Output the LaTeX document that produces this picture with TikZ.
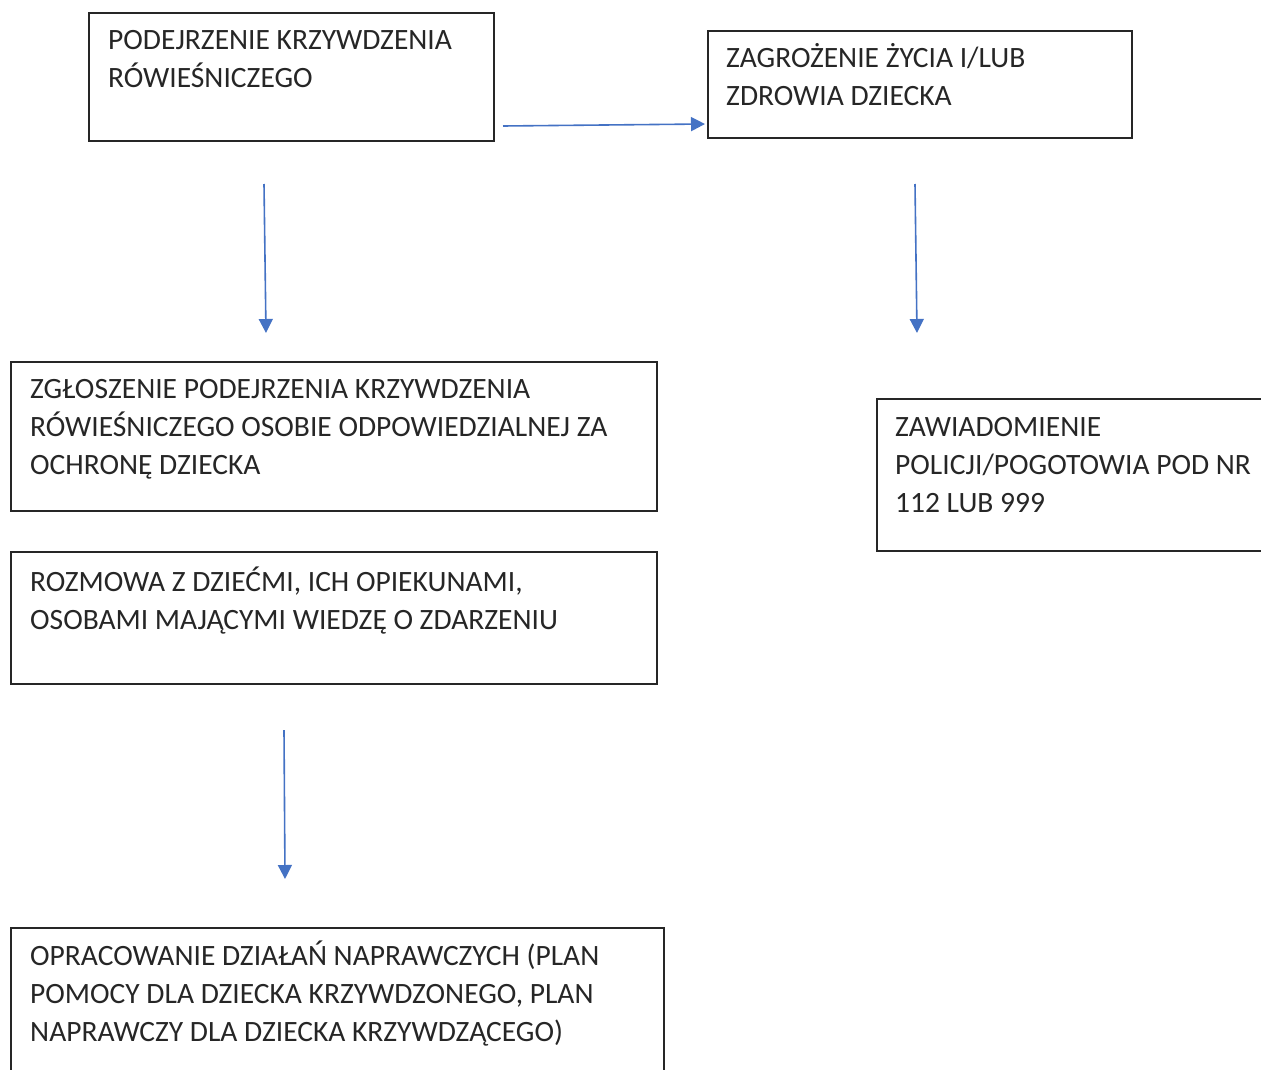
\documentclass[tikz,border=0pt]{standalone}
\usepackage{fontspec}
\setmainfont{Carlito}
\usetikzlibrary{arrows.meta}
\definecolor{arrowblue}{HTML}{4472C4}
\definecolor{boxline}{HTML}{262626}
\tikzset{
  flowbox/.style={draw=boxline, line width=1.7pt, rectangle, inner sep=0pt, anchor=north west},
  boxtext/.style={anchor=base west, inner sep=0pt, align=left, font=\fontsize{29.5}{38}\selectfont, text=black!85},
  flowarrow/.style={draw=arrowblue, line width=1.6pt, -{Triangle[width=14pt,length=14pt]}}
}
\begin{document}
\begin{tikzpicture}[x=1pt,y=-1pt]
\useasboundingbox (0,0) rectangle (1261,1070);
\clip (0,0) rectangle (1261,1070);
% boxes
\node[flowbox, minimum width=405pt, minimum height=128pt] (b1) at (88,12) {};
\node[flowbox, minimum width=424pt, minimum height=107pt] (b2) at (707,30) {};
\node[flowbox, minimum width=646pt, minimum height=149pt] (b3) at (10,361) {};
\node[flowbox, minimum width=646pt, minimum height=132pt] (b4) at (10,551) {};
\node[flowbox, minimum width=420pt, minimum height=152pt] (b5) at (876,398) {};
\node[flowbox, minimum width=653pt, minimum height=180pt] (b6) at (10,927) {};
% texts (anchored at the baseline of their last line)
\node[boxtext] (t1) at (108,88) {PODEJRZENIE KRZYWDZENIA\\RÓWIEŚNICZEGO};
\node[boxtext] (t2) at (726,106) {ZAGROŻENIE ŻYCIA I/LUB\\ZDROWIA DZIECKA};
\node[boxtext] (t3) at (30,474) {ZGŁOSZENIE PODEJRZENIA KRZYWDZENIA\\RÓWIEŚNICZEGO OSOBIE ODPOWIEDZIALNEJ ZA\\OCHRONĘ DZIECKA};
\node[boxtext] (t4) at (30,629) {ROZMOWA Z DZIEĆMI, ICH OPIEKUNAMI,\\OSOBAMI MAJĄCYMI WIEDZĘ O ZDARZENIU};
\node[boxtext] (t5) at (895,512) {ZAWIADOMIENIE\\POLICJI/POGOTOWIA POD NR\\112 LUB 999};
\node[boxtext] (t6) at (30,1041) {OPRACOWANIE DZIAŁAŃ NAPRAWCZYCH (PLAN\\POMOCY DLA DZIECKA KRZYWDZONEGO, PLAN\\NAPRAWCZY DLA DZIECKA KRZYWDZĄCEGO)};
% arrow endpoints
\coordinate (a1s) at (503,126);
\coordinate (a1e) at (705,124);
\coordinate (a2s) at (264,184);
\coordinate (a2e) at (266,333);
\coordinate (a3s) at (915,184);
\coordinate (a3e) at (917,333);
\coordinate (a4s) at (284,730);
\coordinate (a4e) at (285,879);
\draw[flowarrow] (a1s) -- (a1e);
\draw[flowarrow] (a2s) -- (a2e);
\draw[flowarrow] (a3s) -- (a3e);
\draw[flowarrow] (a4s) -- (a4e);
\end{tikzpicture}
\end{document}
